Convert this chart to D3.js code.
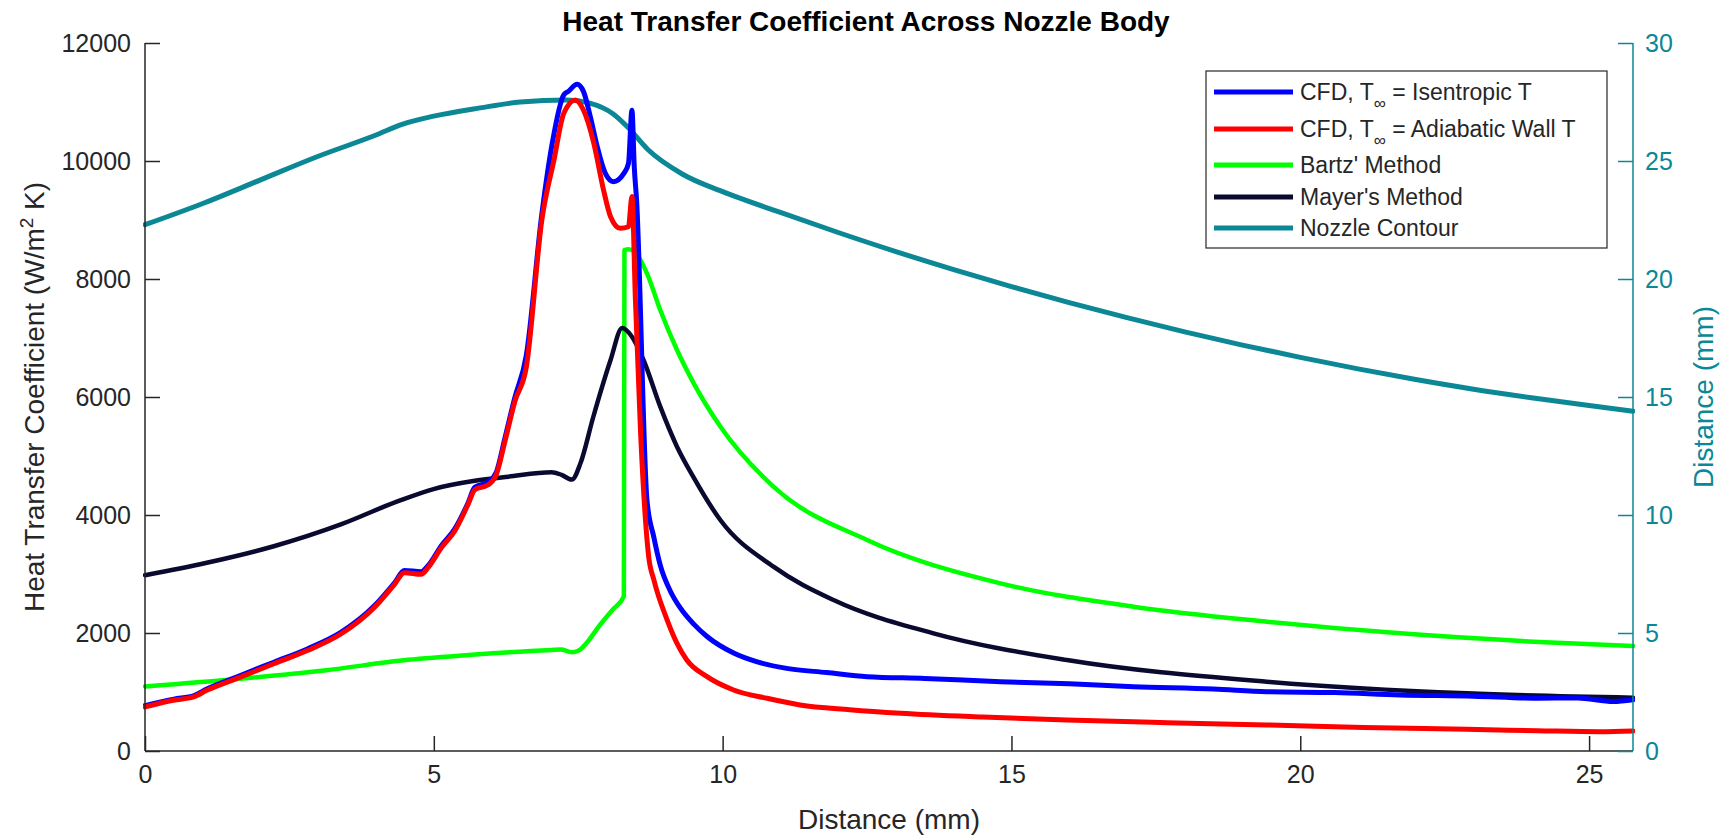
<!DOCTYPE html>
<html>
<head>
<meta charset="utf-8">
<script src="https://cdn.jsdelivr.net/npm/d3@7"></script>
<style>
  html, body { margin: 0; padding: 0; background: #fff; }
  svg text { font-family: "Liberation Sans", Arial, Helvetica, sans-serif; fill: #262626; }
</style>
</head>
<body>
<svg id="chart" width="1732" height="836"></svg>
<script>
// values
var isenX = [0, 0.5, 0.85, 1.07, 1.65, 2.23, 2.81, 3.39, 3.97, 4.32, 4.49, 4.78, 4.9, 5.13, 5.36, 5.59, 5.71, 5.94, 6.08, 6.23, 6.4, 6.6, 6.87, 7.05, 7.25, 7.33, 7.48, 7.59, 7.71, 7.83, 7.97, 8.11, 8.29, 8.37, 8.43, 8.47, 8.51, 8.69, 8.81, 8.92, 9.1, 9.27, 9.5, 9.73, 10.19, 10.6, 11.11, 11.8, 12.5, 13.5, 14.81, 16, 17.11, 18.5, 19.42, 20.6, 21.73, 23, 24.04, 24.8, 25.42, 25.76];
var isenY = [770, 880, 940, 1050, 1280, 1505, 1730, 2010, 2460, 2850, 3060, 3040, 3140, 3480, 3760, 4200, 4470, 4560, 4720, 5300, 5980, 6700, 9100, 10300, 11120, 11180, 11300, 11180, 10750, 10240, 9790, 9650, 9790, 9960, 10860, 9900, 9340, 4250, 3620, 3150, 2700, 2420, 2150, 1940, 1660, 1510, 1400, 1330, 1260, 1230, 1175, 1140, 1090, 1050, 1005, 990, 950, 930, 895, 900, 840, 870];

var adiaX = [0, 0.49, 0.84, 1.07, 1.65, 2.23, 2.81, 3.39, 3.97, 4.32, 4.49, 4.78, 4.9, 5.13, 5.36, 5.59, 5.71, 5.94, 6.08, 6.23, 6.4, 6.6, 6.87, 7.08, 7.25, 7.45, 7.59, 7.77, 7.94, 8.06, 8.23, 8.37, 8.43, 8.49, 8.58, 8.66, 8.72, 8.81, 9.04, 9.21, 9.38, 9.73, 10.19, 10.77, 11.34, 12.2, 13.08, 14.5, 15.96, 17.7, 19.42, 21.1, 22.88, 24.1, 25.19, 25.76];
var adiaY = [747, 860, 916, 1028, 1253, 1478, 1702, 1983, 2433, 2826, 3022, 2994, 3107, 3444, 3725, 4174, 4427, 4511, 4680, 5242, 5916, 6500, 9000, 10017, 10808, 11034, 10864, 10300, 9500, 9056, 8859, 8886, 9400, 7644, 5384, 3972, 3293, 2898, 2220, 1825, 1542, 1260, 1034, 893, 780, 700, 639, 575, 525, 480, 441, 400, 367, 345, 328, 340];

var bartzX = [0, 1.65, 3.1, 4.55, 5.71, 7.04, 7.2, 7.39, 7.5, 7.9, 8.1, 8.29, 8.3, 8.37, 8.52, 8.69, 8.92, 9.21, 9.5, 9.96, 10.88, 12.5, 14.81, 17.11, 19.42, 21.73, 24.04, 25.76];
var bartzY = [1095, 1225, 1365, 1545, 1635, 1713, 1720, 1674, 1700, 2166, 2400, 2620, 8491, 8503, 8407, 8096, 7475, 6797, 6232, 5500, 4480, 3576, 2842, 2446, 2192, 1994, 1853, 1780];

var mayerX = [0, 1.07, 2.23, 3.39, 4.37, 5.01, 5.71, 6.29, 7.04, 7.21, 7.39, 7.54, 7.76, 8.06, 8.26, 8.43, 8.63, 8.92, 9.21, 9.49, 9.96, 10.88, 11.92, 13.65, 15.96, 19.42, 22.88, 25.76];
var mayerY = [2980, 3190, 3470, 3840, 4230, 4444, 4580, 4650, 4725, 4680, 4600, 4881, 5661, 6627, 7169, 7022, 6627, 5836, 5158, 4650, 3915, 3124, 2559, 1994, 1542, 1175, 977, 904];

var contourX = [0, 1, 2, 3, 4, 4.45, 5, 5.8, 6.5, 7.3, 7.7, 8.1, 8.35, 8.7, 9.3, 10, 11, 12, 13, 14, 15, 16, 17, 18, 19, 20, 21, 22, 23, 24, 25, 25.76];
var contourY = [22.3, 23.2, 24.2, 25.2, 26.1, 26.55, 26.9, 27.25, 27.5, 27.58, 27.45, 27.0, 26.45, 25.5, 24.45, 23.7, 22.82, 21.97, 21.16, 20.4, 19.68, 19.0, 18.36, 17.76, 17.2, 16.68, 16.19, 15.74, 15.33, 14.97, 14.64, 14.4];

var xTicks = [0, 5, 10, 15, 20, 25];
var yLeftTicks = [0, 2000, 4000, 6000, 8000, 10000, 12000];
var yRightTicks = [0, 5, 10, 15, 20, 25, 30];

var TEAL = "#0b8796";

var svg = d3.select("#chart");
var margin = {left: 145, top: 43, right: 99, bottom: 85};
var W = 1732 - margin.left - margin.right,
    H = 836 - margin.top - margin.bottom;

var x = d3.scaleLinear().domain([0, 25.76]).range([0, W]);
var yL = d3.scaleLinear().domain([0, 12000]).range([H, 0]);
var yR = d3.scaleLinear().domain([0, 30]).range([H, 0]);

var g = svg.append("g").attr("transform", "translate(" + margin.left + "," + margin.top + ")");

svg.append("defs").append("clipPath").attr("id", "plotclip")
    .append("rect").attr("x", -2).attr("y", -4).attr("width", W + 4).attr("height", H + 6);

function zipSeries(xs, ys) {
    return xs.map(function(v, i) { return [v, ys[i]]; });
}

var series = [
    {name: "contour", xs: contourX, ys: contourY, color: TEAL, width: 5, scale: yR},
    {name: "bartz", xs: bartzX, ys: bartzY, color: "#00ff00", width: 4.5, scale: yL},
    {name: "mayer", xs: mayerX, ys: mayerY, color: "#0a0a30", width: 4.5, scale: yL},
    {name: "isen", xs: isenX, ys: isenY, color: "#0000ff", width: 5, scale: yL},
    {name: "adia", xs: adiaX, ys: adiaY, color: "#ff0000", width: 5, scale: yL}
];

var lines = g.append("g").attr("clip-path", "url(#plotclip)");
series.forEach(function(s) {
    var line = d3.line()
        .x(function(d) { return x(d[0]); })
        .y(function(d) { return s.scale(d[1]); })
        .curve(d3.curveMonotoneX);
    lines.append("path")
        .datum(zipSeries(s.xs, s.ys))
        .attr("fill", "none")
        .attr("stroke", s.color)
        .attr("stroke-width", s.width)
        .attr("stroke-linejoin", "round")
        .attr("stroke-linecap", "round")
        .attr("d", line);
});

// axes, matlab style: ticks pointing inwards
var xAxis = g.append("g").attr("transform", "translate(0," + H + ")")
    .call(d3.axisBottom(x).tickValues(xTicks).tickSize(-15).tickPadding(14).tickFormat(d3.format("d")));
var yAxisL = g.append("g")
    .call(d3.axisLeft(yL).tickValues(yLeftTicks).tickSize(-15).tickPadding(14).tickFormat(d3.format("d")));
var yAxisR = g.append("g").attr("transform", "translate(" + W + ",0)")
    .call(d3.axisRight(yR).tickValues(yRightTicks).tickSize(-15).tickPadding(12).tickFormat(d3.format("d")));

[xAxis, yAxisL].forEach(function(a) {
    a.select(".domain").attr("stroke", "#262626").attr("stroke-width", 1.5);
    a.selectAll(".tick line").attr("stroke", "#262626").attr("stroke-width", 1.5);
    a.selectAll(".tick text").style("font-size", "25px").style("fill", "#262626");
});
yAxisR.select(".domain").attr("stroke", TEAL).attr("stroke-width", 1.5);
yAxisR.selectAll(".tick line").attr("stroke", TEAL).attr("stroke-width", 1.5);
yAxisR.selectAll(".tick text").style("font-size", "25px").style("fill", TEAL);
// plain domain lines, no outer ticks
xAxis.select(".domain").attr("d", "M0,0H" + W);
yAxisL.select(".domain").attr("d", "M0,0V" + H);
yAxisR.select(".domain").attr("d", "M0,0V" + H);

// title and labels
svg.append("text")
    .attr("x", 866).attr("y", 31)
    .attr("text-anchor", "middle")
    .style("font-size", "28px").style("font-weight", "bold").style("fill", "#000")
    .text("Heat Transfer Coefficient Across Nozzle Body");

svg.append("text")
    .attr("x", margin.left + W / 2).attr("y", 829)
    .attr("text-anchor", "middle")
    .style("font-size", "28px")
    .text("Distance (mm)");

var yl = svg.append("text")
    .attr("transform", "translate(44," + (margin.top + H / 2) + ") rotate(-90)")
    .attr("text-anchor", "middle")
    .style("font-size", "28px");
yl.append("tspan").text("Heat Transfer Coefficient (W/m");
yl.append("tspan").attr("dy", -11).style("font-size", "19px").text("2");
yl.append("tspan").attr("dy", 11).text(" K)");

svg.append("text")
    .attr("transform", "translate(1713," + (margin.top + H / 2) + ") rotate(-90)")
    .attr("text-anchor", "middle")
    .style("font-size", "28px").style("fill", TEAL)
    .text("Distance (mm)");

// legend
var legendItems = [
    {color: "#0000ff", label: ["CFD, T", "\u221E", " = Isentropic T"]},
    {color: "#ff0000", label: ["CFD, T", "\u221E", " = Adiabatic Wall T"]},
    {color: "#00ff00", label: ["Bartz' Method"]},
    {color: "#0a0a30", label: ["Mayer's Method"]},
    {color: TEAL, label: ["Nozzle Contour"]}
];
var legendRows = [92, 129, 165, 197, 228];
var lg = svg.append("g");
lg.append("rect")
    .attr("x", 1206).attr("y", 71).attr("width", 401).attr("height", 177)
    .attr("fill", "#fff").attr("stroke", "#262626").attr("stroke-width", 1.2);
legendItems.forEach(function(it, i) {
    var yy = legendRows[i];
    lg.append("line")
        .attr("x1", 1214).attr("x2", 1293).attr("y1", yy).attr("y2", yy)
        .attr("stroke", it.color).attr("stroke-width", 5);
    var t = lg.append("text")
        .attr("x", 1300).attr("y", yy + 8)
        .style("font-size", "23px");
    t.append("tspan").text(it.label[0]);
    if (it.label.length > 1) {
        t.append("tspan").attr("dy", 9).style("font-size", "17px").text(it.label[1]);
        t.append("tspan").attr("dy", -9).text(it.label[2]);
    }
});
</script>
</body>
</html>
